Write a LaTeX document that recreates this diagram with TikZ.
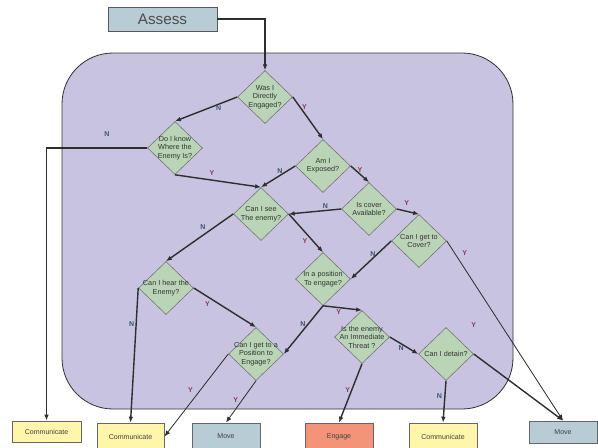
\documentclass[tikz,border=0pt]{standalone}
\usepackage{fontspec}
\setmainfont{Liberation Sans}
\usetikzlibrary{arrows.meta,shapes.geometric}

\definecolor{zonefill}{HTML}{C7C3E1}
\definecolor{diafill}{HTML}{B9D5B5}
\definecolor{commfill}{HTML}{FFF6AA}
\definecolor{movefill}{HTML}{B8CCD6}
\definecolor{engagefill}{HTML}{F39478}
\definecolor{nocol}{HTML}{3D5272}
\definecolor{yescol}{HTML}{8E3A52}
\definecolor{linecol}{HTML}{2E2E2E}

\tikzset{
  decision/.style={diamond, draw=black!55, fill=diafill, line width=0.5pt,
    minimum width=1.65cm, minimum height=1.59cm, inner sep=0pt},
  qtext/.style={font=\fontsize{6.2}{7.2}\selectfont, align=center, text=black!80, inner sep=0pt},
  outbox/.style={draw=black!60, line width=0.8pt, minimum width=2.04cm, minimum height=0.81cm,
    font=\fontsize{6}{7}\selectfont, text=black!75, inner sep=0pt},
  flow/.style={draw=linecol, line width=1.2pt, -{Latex[length=5pt,width=4pt]}},
  thinflow/.style={flow, line width=0.7pt},
  lbln/.style={font=\fontsize{6}{7}\selectfont\bfseries, text=nocol, inner sep=1pt},
  lbly/.style={font=\fontsize{6}{7}\selectfont\bfseries, text=yescol, inner sep=1pt},
}

\begin{document}
\begin{tikzpicture}[x=0.03cm, y=-0.03cm]
  \useasboundingbox (0,0) rectangle (598,447);

  % Assessment zone
  \draw[draw=black!80, fill=zonefill, line width=0.7pt, rounded corners=1.53cm] (62,53) rectangle (513,409);

  \node[draw=black!65, fill=movefill, line width=0.8pt, minimum width=3.27cm, minimum height=0.72cm,
    font=\fontsize{13}{14}\selectfont, text=black!70] (assess) at (162.5,19) {Assess};

  % Questions
  \node[decision, label={[qtext]center:Was I\\Directly\\Engaged?}]        (was)      at (265,97) {};
  \node[decision, label={[qtext]center:Do I know\\Where the\\Enemy Is?}]  (know)     at (175,148) {};
  \node[decision, label={[qtext]center:Am I\\Exposed?}]                   (exposed)  at (323,166) {};
  \node[decision, label={[qtext]center:Is cover\\Available?}]             (cover)    at (369,209) {};
  \node[decision, label={[qtext]center:Can I get to\\Cover?}]             (getcover) at (419,241) {};
  \node[decision, label={[qtext]center:Can I see\\The enemy?}]            (see)      at (261,214) {};
  \node[decision, label={[qtext]center:In a position\\To engage?}]        (position) at (323,279) {};
  \node[decision, label={[qtext]center:Can I hear the\\Enemy?}]           (hear)     at (166,288) {};
  \node[decision, label={[qtext]center:Can I get to a\\Position to\\Engage?}] (getpos) at (256,354) {};
  \node[decision, label={[qtext]center:Is the enemy\\An Immediate\\Threat ?}] (threat) at (362,337) {};
  \node[decision, label={[qtext]center:Can I detain?}]                    (detain)   at (446,354) {};

  % Outcomes
  \node[outbox, fill=commfill, minimum width=2.07cm, minimum height=0.63cm] (comm1) at (46.5,431.5) {Communicate};
  \node[outbox, fill=commfill, minimum width=2.01cm] (comm2)  at (130.5,436.5) {Communicate};
  \node[outbox, fill=movefill]                       (move1)  at (226,436.5) {Move};
  \node[outbox, fill=engagefill]                     (engage) at (339,436.5) {Engage};
  \node[outbox, fill=commfill]                       (comm3)  at (443,436.5) {Communicate};
  \node[outbox, fill=movefill, minimum height=0.66cm] (move2) at (563,432) {Move};

  % Connectors
  \draw[flow] (assess.east) -| (was.north);
  \draw[flow] (was.west) -- node[lbln, pos=0.3, below] (was-n) {N} (know.north);
  \draw[flow] (was.east) -- node[lbly, pos=0.25, right] (was-y) {Y} (exposed.north);
  \draw[flow] (know.west) -| node[lbln, pos=0.2, above=8pt] (know-n) {N} (comm1.north);
  \draw[flow] (know.south) -- node[lbly, pos=0.43, above=2pt] (know-y) {Y} (see.north);
  \draw[flow] (exposed.west) -- node[lbln, pos=0.45, above] (exposed-n) {N} (see.north);
  \draw[flow] (exposed.east) -- node[lbly, pos=0.5, above] (exposed-y) {Y} (cover.north);
  \draw[flow] (cover.west) -- node[lbln, pos=0.3, above] (cover-n) {N} (see.east);
  \draw[flow] (cover.east) -- node[lbly, pos=0.45, above=3pt] (cover-y) {Y} (getcover.north);
  \draw[flow] (getcover.west) -- node[lbln, pos=0.45, above] (getcover-n) {N} (position.east);
  \draw[thinflow] (getcover.east) -- node[lbly, pos=0.07, right=5pt] (getcover-y) {Y} (move2.north);
  \draw[flow] (see.west) -- node[lbln, pos=0.45, above=3pt] (see-n) {N} (hear.north);
  \draw[flow] (see.east) -- node[lbly, pos=0.7, left=3pt] (see-y) {Y} (position.north);
  \draw[flow] (position.south) -- node[lbly, pos=0.4, below] (position-y) {Y} (threat.north);
  \draw[flow] (position.south) -- node[lbln, pos=0.37, left=1pt] (position-n) {N} (getpos.east);
  \draw[flow] (hear.east) -- node[lbly, pos=0.22, below=3pt] (hear-y) {Y} (getpos.north);
  \draw[flow] (hear.west) -- node[lbln, pos=0.27, left] (hear-n) {N} (comm2.north);
  \draw[thinflow] (getpos.west) -- node[lbly, pos=0.44, left=5pt] (getpos-y) {Y} (comm2.east);
  \draw[thinflow] (getpos.south) -- node[lbly, pos=0.47, left=2pt] (getpos-y2) {Y} (move1.north);
  \draw[flow] (threat.south) -- node[lbly, pos=0.44, left] (threat-y) {Y} (engage.north);
  \draw[flow] (threat.east) -- node[lbln, pos=0.4, below] (threat-n) {N} (detain.west);
  \draw[flow] (detain.south) -- node[lbln, pos=0.37, left=1pt] (detain-n) {N} (comm3.north);
  \draw[flow] (detain.east) -- node[lbly, pos=0, above=0.75cm] (detain-y) {Y} (move2.north);
\end{tikzpicture}
\end{document}
